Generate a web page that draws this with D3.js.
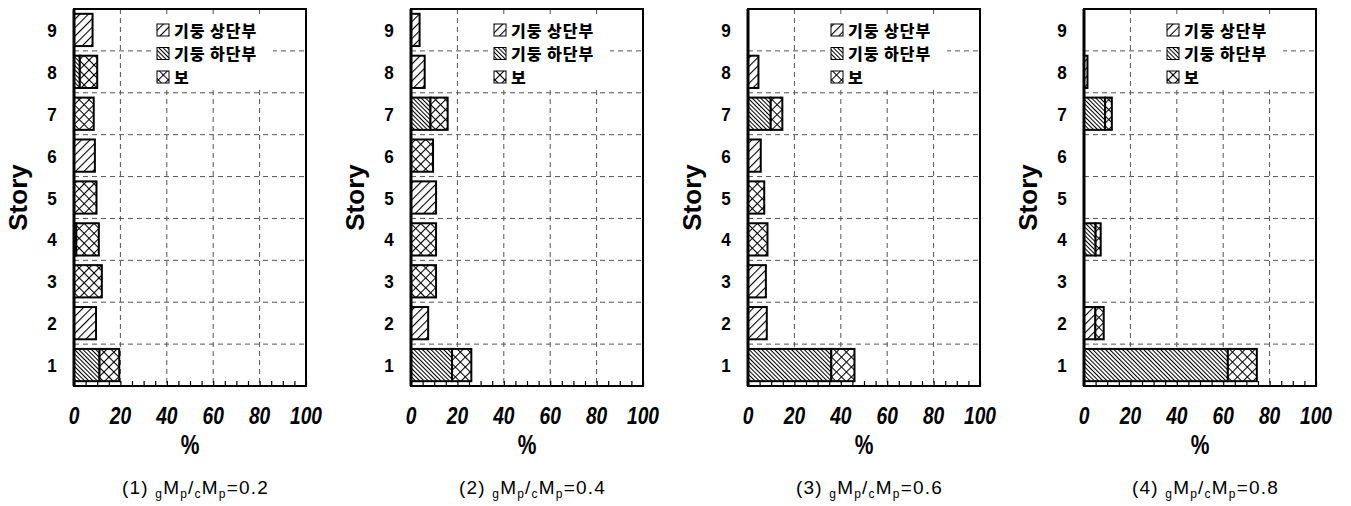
<!DOCTYPE html>
<html>
<head>
<meta charset="utf-8">
<script src="https://cdn.jsdelivr.net/npm/d3@7"></script>
<style>
  html, body { margin: 0; padding: 0; background: #fff; }
  svg { display: block; }
</style>
</head>
<body>
<svg id="chart" width="1351" height="506"></svg>
<script>
// Story levels (bottom to top)
const stories = [1, 2, 3, 4, 5, 6, 7, 8, 9];
// Beam-to-column plastic moment ratio for each panel
const ratios = ["0.2", "0.4", "0.6", "0.8"];
const xTicks = [0, 20, 40, 60, 80, 100];
const seriesNames = ["기둥 상단부", "기둥 하단부", "보"];

// Share of plastic hinges (%) per story, one row per panel, stories 1..9
const colTop = [
  [0, 9.5, 0, 0, 0, 9, 0, 0, 8],
  [0, 7.4, 0, 0, 10.8, 0, 0, 5.9, 3.7],
  [0, 8.1, 7.7, 0, 0, 5.5, 0, 4.5, 0],
  [0, 4.9, 0, 0, 0, 0, 0, 1.5, 0]
];
const colBottom = [
  [11, 0, 0, 1, 0, 0, 0, 2.5, 0],
  [17.7, 0, 0, 0, 0, 0, 8.4, 0, 0],
  [35.9, 0, 0, 0, 0, 0, 9.8, 0, 0],
  [62, 0, 0, 5, 0, 0, 9.1, 0, 0]
];
const beam = [
  [8.5, 0, 12, 9.7, 9.7, 0, 8.5, 7.5, 0],
  [8.3, 0, 10.8, 10.8, 0, 9.5, 7.4, 0, 0],
  [10, 0, 0, 8.4, 7, 0, 5, 0, 0],
  [12.5, 3.6, 0, 2.2, 0, 0, 2.9, 0, 0]
];

const svg = d3.select("#chart");
const defs = svg.append("defs");

// Hatch fills for the three hinge locations
function hatch(id, spacing, width, angle, cross) {
  const p = defs.append("pattern")
    .attr("id", id)
    .attr("patternUnits", "userSpaceOnUse")
    .attr("width", spacing).attr("height", spacing)
    .attr("patternTransform", `rotate(${angle})`);
  p.append("rect").attr("width", spacing).attr("height", spacing).attr("fill", "#fff");
  p.append("line").attr("x1", 0.5).attr("y1", 0).attr("x2", 0.5).attr("y2", spacing)
    .attr("stroke", "#000").attr("stroke-width", width);
  if (cross) {
    p.append("line").attr("x1", 0).attr("y1", 0.5).attr("x2", spacing).attr("y2", 0.5)
      .attr("stroke", "#000").attr("stroke-width", width);
  }
}
hatch("pTop", 6, 1.2, 45, false);
hatch("pBottom", 3, 1.1, -45, false);
hatch("pBeam", 7, 1.1, 45, true);
const fills = ["url(#pTop)", "url(#pBottom)", "url(#pBeam)"];

const panelLefts = [74, 411, 748, 1084];
const plotW = 232, plotTop = 9, plotBottom = 386;

const numFont = "'Liberation Sans', Arial, sans-serif";

panelLefts.forEach((left, pi) => {
  const g = svg.append("g");
  const x = d3.scaleLinear().domain([0, 100]).range([left, left + plotW]);
  const y = d3.scaleBand().domain(stories.slice().reverse())
    .range([plotTop, plotBottom]).paddingInner(0.23).paddingOuter(0.115);
  const gap = y.step() - y.bandwidth();

  // dashed grid
  g.selectAll(".vgrid").data([20, 40, 60, 80]).join("line")
    .attr("x1", d => x(d)).attr("x2", d => x(d))
    .attr("y1", plotTop).attr("y2", plotBottom)
    .attr("stroke", "#555").attr("stroke-width", 1).attr("stroke-dasharray", "5,4");
  g.selectAll(".hgrid").data(stories.slice(0, 8)).join("line")
    .attr("x1", x(0)).attr("x2", x(100))
    .attr("y1", d => y(d) - gap / 2).attr("y2", d => y(d) - gap / 2)
    .attr("stroke", "#555").attr("stroke-width", 1).attr("stroke-dasharray", "5,4");

  // stacked bars: column top, column bottom, beam
  const stackData = stories.map((s, i) => ({ story: s, top: colTop[pi][i], bottom: colBottom[pi][i], beam: beam[pi][i] }));
  const stacked = d3.stack().keys(["top", "bottom", "beam"])(stackData);
  stacked.forEach((layer, li) => {
    g.selectAll(null).data(layer.filter(d => d[1] - d[0] > 0)).join("rect")
      .attr("x", d => x(d[0]))
      .attr("y", d => y(d.data.story))
      .attr("width", d => x(d[1]) - x(d[0]))
      .attr("height", y.bandwidth())
      .attr("fill", fills[li])
      .attr("stroke", "#000").attr("stroke-width", 2);
  });

  // legend with white backing
  const lx = left + 83, ly = 30, dy = 23.5;
  g.append("rect").attr("x", lx - 6).attr("y", 14).attr("width", 122).attr("height", 76).attr("fill", "#fff");
  seriesNames.forEach((name, i) => {
    g.append("rect").attr("x", lx).attr("y", ly + i * dy - 6).attr("width", 12).attr("height", 12)
      .attr("fill", fills[i]).attr("stroke", "#000").attr("stroke-width", 1);
    g.append("text").attr("x", lx + 17).attr("y", ly + i * dy + 6.5)
      .attr("font-family", "'Noto Sans CJK KR', sans-serif").attr("font-weight", 900)
      .attr("font-size", 16).attr("letter-spacing", 1).text(name);
  });

  // frame
  g.append("rect").attr("x", x(0)).attr("y", plotTop).attr("width", plotW).attr("height", plotBottom - plotTop)
    .attr("fill", "none").attr("stroke", "#000").attr("stroke-width", 2);
  g.append("line").attr("x1", x(0)).attr("x2", x(0)).attr("y1", plotTop).attr("y2", plotBottom)
    .attr("stroke", "#000").attr("stroke-width", 3);

  // bottom axis with inward minor ticks
  const axis = d3.axisBottom(x).tickValues(d3.range(0, 101, 5)).tickSize(-5).tickFormat("");
  g.append("g").attr("transform", `translate(0,${plotBottom})`).call(axis)
    .call(a => a.select(".domain").remove())
    .call(a => a.selectAll("line").attr("stroke-width", 1.2));

  // x tick labels (condensed heavy digits)
  g.selectAll(".xl").data(xTicks).join("text")
    .attr("transform", d => `translate(${x(d)},424) scale(0.8,1)`)
    .attr("text-anchor", "middle")
    .attr("font-family", numFont).attr("font-weight", "bold").attr("font-style", "italic")
    .attr("font-size", 24).text(d => d);

  // y tick labels
  g.selectAll(".yl").data(stories).join("text")
    .attr("transform", d => `translate(${left - 22},${y(d) + y.bandwidth() / 2 + 7}) scale(0.9,1)`)
    .attr("text-anchor", "middle")
    .attr("font-family", numFont).attr("font-weight", "bold")
    .attr("font-size", 19).text(d => d);

  // axis titles
  g.append("text")
    .attr("transform", `translate(${left - 47},${(plotTop + plotBottom) / 2}) rotate(-90)`)
    .attr("text-anchor", "middle")
    .attr("font-family", numFont).attr("font-weight", "bold")
    .attr("font-size", 26).text("Story");
  g.append("text")
    .attr("transform", `translate(${x(50)},454) scale(0.75,1)`)
    .attr("text-anchor", "middle")
    .attr("font-family", numFont).attr("font-weight", "bold")
    .attr("font-size", 28).text("%");

  // caption
  const cap = g.append("text").attr("x", left + 48).attr("y", 494)
    .attr("font-family", "'Liberation Sans', Arial, sans-serif").attr("font-size", 19)
    .attr("letter-spacing", 1.2);
  cap.append("tspan").text(`(${pi + 1})  `);
  cap.append("tspan").attr("font-size", 12).attr("dy", 4).text("g");
  cap.append("tspan").attr("dy", -4).text("M");
  cap.append("tspan").attr("font-size", 12).attr("dy", 4).text("p");
  cap.append("tspan").attr("dy", -4).text("/");
  cap.append("tspan").attr("font-size", 12).attr("dy", 4).text("c");
  cap.append("tspan").attr("dy", -4).text("M");
  cap.append("tspan").attr("font-size", 12).attr("dy", 4).text("p");
  cap.append("tspan").attr("dy", -4).text(`=${ratios[pi]}`);
});
</script>
</body>
</html>
